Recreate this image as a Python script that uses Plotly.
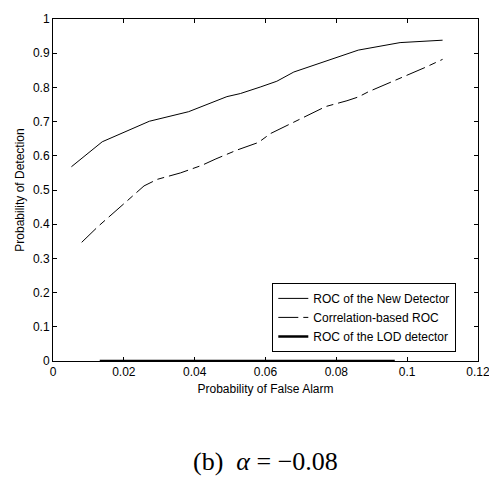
import plotly.graph_objects as go

# New detector ROC (solid)
new_pfa = [0.0052, 0.0139, 0.0272, 0.0383, 0.0491, 0.0529, 0.0585, 0.0632, 0.068, 0.0773, 0.0862, 0.098, 0.110]
new_pd = [0.568, 0.641, 0.701, 0.729, 0.773, 0.782, 0.801, 0.818, 0.845, 0.877, 0.909, 0.931, 0.938]

# Correlation-based ROC (dash-dot)
corr_pfa = [0.0081, 0.0128, 0.0208, 0.0257, 0.0294, 0.032, 0.036, 0.042, 0.046, 0.052, 0.058, 0.0614,
            0.067, 0.073, 0.077, 0.083, 0.0862, 0.089, 0.0929, 0.099, 0.105, 0.110]
corr_pd = [0.347, 0.394, 0.467, 0.512, 0.531, 0.538, 0.550, 0.572, 0.591, 0.617, 0.639, 0.665,
           0.694, 0.725, 0.744, 0.761, 0.772, 0.787, 0.804, 0.833, 0.858, 0.882]

# LOD detector ROC (thick, zero)
lod_pfa = [0.0132, 0.0965]
lod_pd = [0.0, 0.0]

x_ticks = [0, 0.02, 0.04, 0.06, 0.08, 0.1, 0.12]
x_labels = ["0", "0.02", "0.04", "0.06", "0.08", "0.1", "0.12"]
y_ticks = [0, 0.1, 0.2, 0.3, 0.4, 0.5, 0.6, 0.7, 0.8, 0.9, 1]
y_labels = ["0", "0.1", "0.2", "0.3", "0.4", "0.5", "0.6", "0.7", "0.8", "0.9", "1"]

fig = go.Figure()
fig.add_trace(go.Scatter(x=new_pfa, y=new_pd, mode="lines", name="ROC of the New Detector",
                         line=dict(color="black", width=1)))
fig.add_trace(go.Scatter(x=corr_pfa, y=corr_pd, mode="lines", name="Correlation-based ROC",
                         line=dict(color="black", width=1, dash="20px,5px,7px,5px")))
fig.add_trace(go.Scatter(x=lod_pfa, y=lod_pd, mode="lines", name="ROC of the LOD detector",
                         line=dict(color="black", width=2.5), cliponaxis=False))

axis_common = dict(showline=True, linecolor="black", linewidth=1, mirror="ticks", ticks="inside",
                   ticklen=4, tickcolor="black", showgrid=False, zeroline=False,
                   ticklabeloverflow="allow",
                   tickfont=dict(family="Liberation Sans, Arial", size=12, color="black"))

# page body has an 8px margin, so the figure is sized to fit the remaining window
fig.update_layout(
    width=489, height=473,
    margin=dict(l=45, r=19, t=4, b=120),
    paper_bgcolor="white", plot_bgcolor="white",
    font=dict(family="Liberation Sans, Arial", size=12, color="black"),
    xaxis=dict(range=[0, 0.12], tickvals=x_ticks, ticktext=x_labels,
               title=dict(text="Probability of False Alarm", font=dict(size=12), standoff=6),
               **axis_common),
    yaxis=dict(range=[0, 1], tickvals=y_ticks, ticktext=y_labels,
               title=dict(text="Probability of Detection", font=dict(size=12), standoff=5),
               **axis_common),
    legend=dict(x=0.516, y=0.1275, xanchor="left", yanchor="middle", bgcolor="white",
                bordercolor="black", borderwidth=1, font=dict(size=12),
                tracegroupgap=0, itemwidth=30),
    showlegend=True,
)

fig.add_annotation(text="(b)  <i>α</i> = −0.08", xref="paper", yref="paper", x=0.5, y=-0.294,
                   xanchor="center", yanchor="middle", showarrow=False,
                   font=dict(family="Liberation Serif, Times New Roman", size=26, color="black"))

fig.write_html("out.html")
